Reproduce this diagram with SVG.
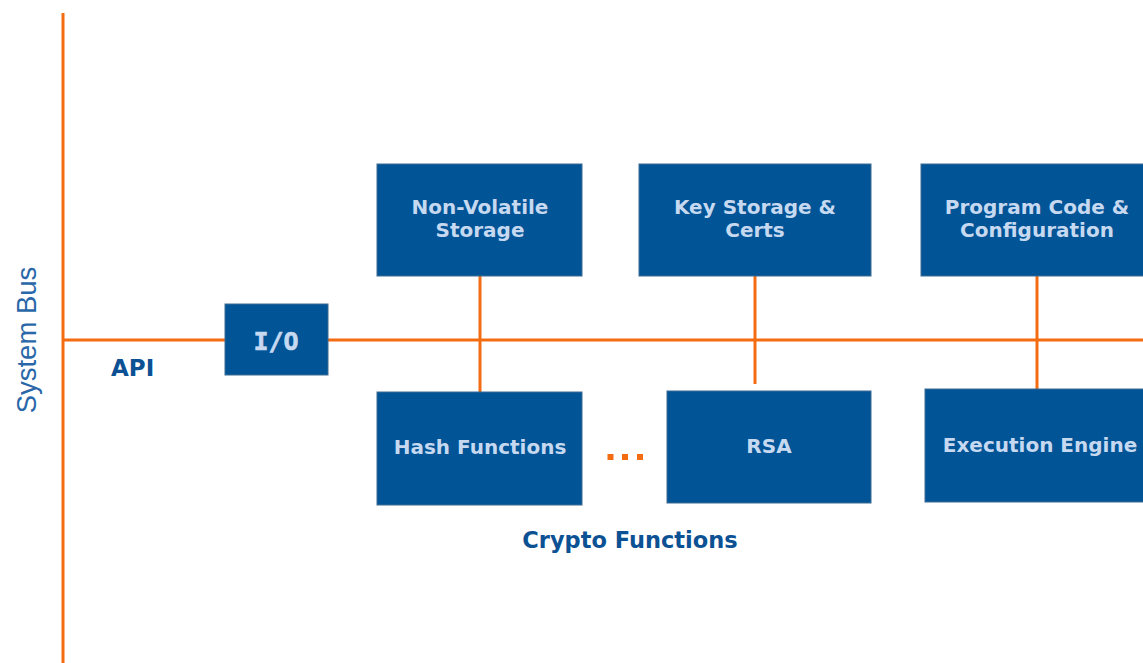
<svg xmlns="http://www.w3.org/2000/svg" width="1143" height="663" viewBox="0 0 1143 663">
<style>
.box{fill:#015496;stroke:#3d6a93;stroke-width:1}
.bt{font-family:"DejaVu Sans",Verdana,sans-serif;font-weight:bold;font-size:20px;fill:#c6d9f0;text-anchor:middle}
.bus{stroke:#f36c11;stroke-width:3;fill:none}
.lbl{font-family:"DejaVu Sans",Verdana,sans-serif;font-weight:bold;fill:#0b5193}
.dot{fill:#f36c11}
</style>
<rect width="1143" height="663" fill="#ffffff"/>
<g id="connectors">
<line class="bus" x1="63" y1="13" x2="63" y2="663"/>
<line class="bus" x1="63" y1="340" x2="1143" y2="340"/>
<line class="bus" x1="480" y1="276" x2="480" y2="392"/>
<line class="bus" x1="755" y1="268" x2="755" y2="384"/>
<line class="bus" x1="1037" y1="275" x2="1037" y2="389"/>
</g>
<text x="26" y="340" transform="rotate(-90 26 340)" font-family="'Liberation Sans',Arial,sans-serif" font-size="27.5" fill="#2a67a8" text-anchor="middle" dominant-baseline="central">System Bus</text>
<text class="lbl" x="111" y="376" font-size="23">API</text>
<g id="io">
<rect class="box" x="225" y="304" width="103" height="71"/>
<text x="276" y="350" font-family="'DejaVu Sans Mono','Liberation Mono',monospace" font-weight="bold" font-size="25" fill="#c6d9f0" stroke="#c6d9f0" stroke-width="0.6" text-anchor="middle">I/O</text>
</g>
<g id="nvs">
<rect class="box" x="377" y="164" width="205" height="112"/>
<text class="bt" x="480" y="214">Non-Volatile</text>
<text class="bt" x="480" y="237">Storage</text>
</g>
<g id="keys">
<rect class="box" x="639" y="164" width="232" height="112"/>
<text class="bt" x="755" y="214">Key Storage &amp;</text>
<text class="bt" x="755" y="237">Certs</text>
</g>
<g id="prog">
<rect class="box" x="921" y="164" width="230" height="112"/>
<text class="bt" x="1037" y="214">Program Code &amp;</text>
<text class="bt" x="1037" y="237">Configuration</text>
</g>
<g id="hash">
<rect class="box" x="377" y="392" width="205" height="113"/>
<text class="bt" x="480" y="454">Hash Functions</text>
</g>
<g id="rsa">
<rect class="box" x="667" y="391" width="204" height="112"/>
<text class="bt" x="769" y="453">RSA</text>
</g>
<g id="exec">
<rect class="box" x="925" y="389" width="226" height="113"/>
<text class="bt" x="1040" y="452">Execution Engine</text>
</g>
<g id="ellipsis">
<rect class="dot" x="607.5" y="454" width="6" height="6"/>
<rect class="dot" x="622" y="454" width="6" height="6"/>
<rect class="dot" x="637" y="454" width="6" height="6"/>
</g>
<text class="lbl" x="630" y="548" font-size="22.5" text-anchor="middle">Crypto Functions</text>
</svg>
